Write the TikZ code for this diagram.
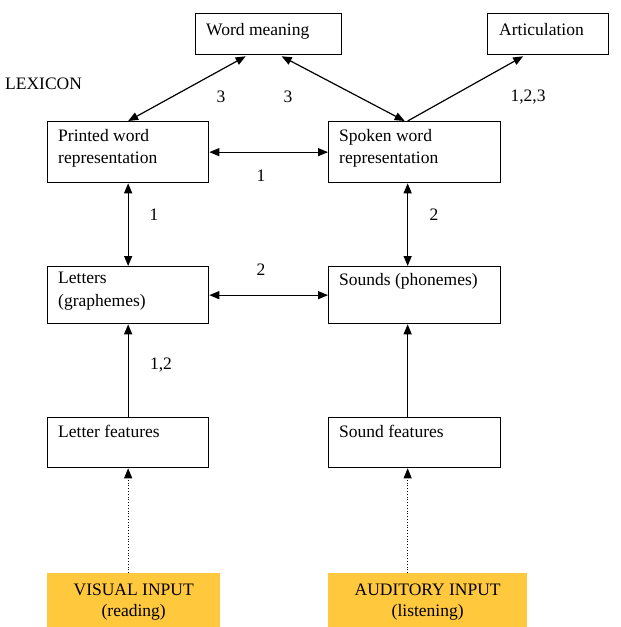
\documentclass[tikz,border=0pt]{standalone}
\usepackage{fontspec}
\setmainfont{Liberation Serif}
\usetikzlibrary{arrows.meta,calc}
\definecolor{inyellow}{RGB}{255,200,61}
\begin{document}
\begin{tikzpicture}[x=1pt,y=-1pt,
  box/.style={draw, line width=1.3pt, rectangle, anchor=north west, inner sep=0pt},
  inbox/.style={fill=inyellow, rectangle, anchor=north west, inner sep=0pt},
  lbl/.style={anchor=north west, align=left, inner sep=0pt, font=\fontsize{17.5}{22.5}\selectfont},
  clbl/.style={anchor=north, align=center, inner sep=0pt, font=\fontsize{17.5}{20.5}\selectfont},
  num/.style={font=\fontsize{17.5}{20}\selectfont, inner sep=0pt},
  conn/.style={line width=1.2pt},
  dots/.style={line width=0.8pt, dotted},
  >={Triangle[length=10pt,width=8pt]},
]
\useasboundingbox (0,0) rectangle (621,627);

% boxes
\node[box, minimum width=146pt, minimum height=41pt] (wm) at (195,13) {};
\node[box, minimum width=121pt, minimum height=41pt] (art) at (487,13) {};
\node[box, minimum width=161pt, minimum height=61pt] (pw) at (47,121) {};
\node[box, minimum width=172pt, minimum height=61pt] (sw) at (328,121) {};
\node[box, minimum width=161pt, minimum height=57pt] (let) at (47,266) {};
\node[box, minimum width=172pt, minimum height=57pt] (snd) at (328,266) {};
\node[box, minimum width=161pt, minimum height=50pt] (lf) at (47,417) {};
\node[box, minimum width=172pt, minimum height=50pt] (sf) at (328,417) {};
\node[inbox, minimum width=173pt, minimum height=54pt] (vis) at (47,573) {};
\node[inbox, minimum width=199pt, minimum height=54pt] (aud) at (328,573) {};

% texts
\node[lbl] (twm) at ($(wm.north west)+(11,10)$) {Word meaning};
\node[lbl] (tart) at ($(art.north west)+(12,10)$) {Articulation};
\node[lbl] (tpw) at ($(pw.north west)+(11,8)$) {Printed word\\representation};
\node[lbl] (tsw) at ($(sw.north west)+(11,8)$) {Spoken word\\representation};
\node[lbl] (tlet) at ($(let.north west)+(11,6)$) {Letters\\(graphemes)};
\node[lbl] (tsnd) at ($(snd.north west)+(11,7)$) {Sounds (phonemes)};
\node[lbl] (tlf) at ($(lf.north west)+(11,8)$) {Letter features};
\node[lbl] (tsf) at ($(sf.north west)+(11,8)$) {Sound features};
\node[clbl] (tvis) at ($(vis.north)+(0,11)$) {VISUAL INPUT\\(reading)};
\node[clbl] (taud) at ($(aud.north)+(0,11)$) {AUDITORY INPUT\\(listening)};
\node[lbl] (lex) at (5,78) {LEXICON};

% numbers
\node[num] (n1) at (221,97) {3};
\node[num] (n2) at (288,97) {3};
\node[num] (n3) at (528,97) {1,2,3};
\node[num] (n4) at (261,176) {1};
\node[num] (n5) at (154,215) {1};
\node[num] (n6) at (434,215) {2};
\node[num] (n7) at (261,270) {2};
\node[num] (n8) at (161,365) {1,2};

% connectors
\draw[conn, <->] ($(wm.south)+(-23,1)$) -- (pw.north);
\draw[conn, <->] ($(wm.south)+(13,1)$) -- ($(sw.north)+(-10,0)$);
\draw[conn, ->] ($(sw.north)+(-7,0)$) -- ($(art.south)+(-25,1)$);
\draw[conn, <->] (pw.east) -- (sw.west);
\draw[conn, <->] (pw.south) -- (let.north);
\draw[conn, <->] ($(sw.south)+(-7,0)$) -- ($(snd.north)+(-7,0)$);
\draw[conn, <->] (let.east) -- (snd.west);
\draw[conn, ->] (lf.north) -- (let.south);
\draw[conn, ->] ($(sf.north)+(-7,0)$) -- ($(snd.south)+(-7,0)$);
\draw[dots, ->] (vis.north -| lf.south) -- (lf.south);
\draw[dots, ->] ($(aud.north -| sf.south)+(-7,0)$) -- ($(sf.south)+(-7,0)$);
\end{tikzpicture}
\end{document}
